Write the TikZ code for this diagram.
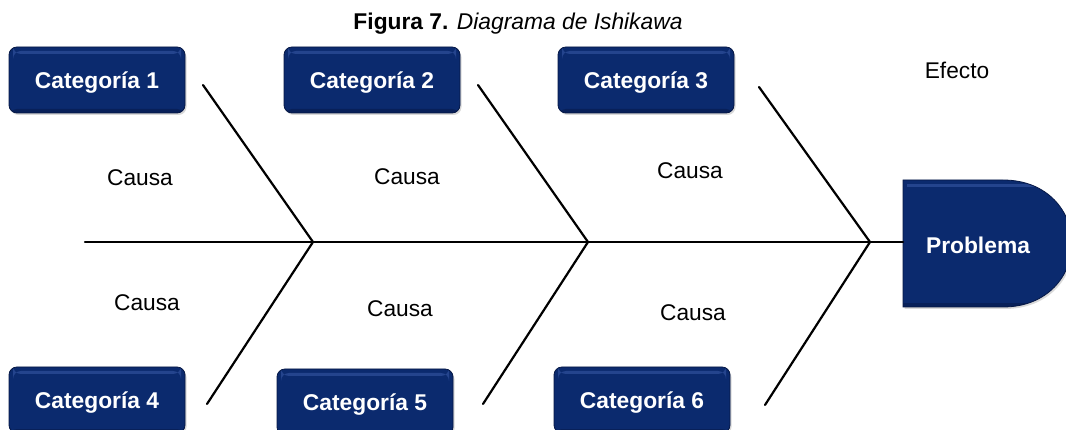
\documentclass[tikz,border=0pt]{standalone}
\usepackage{fontspec}
\setmainfont{Liberation Sans}
\usetikzlibrary{shadows}
\definecolor{navy}{HTML}{0B2A6E}
\definecolor{navylight}{HTML}{3A5AA8}
\definecolor{navyedge}{HTML}{061845}
\begin{document}
\begin{tikzpicture}[x=1pt,y=-1pt,
  gloss/.style={path picture={
      \fill[navylight, opacity=.55]
        ([xshift=4pt,yshift=-4pt]path picture bounding box.north west)
        rectangle ([xshift=-4pt,yshift=-7pt]path picture bounding box.north east);
      \fill[navyedge, opacity=.5]
        ([yshift=4pt]path picture bounding box.south west)
        rectangle (path picture bounding box.south east);}},
  catbox/.style={rounded corners=8pt, minimum width=176pt, minimum height=66pt,
    fill=navy, draw=navyedge, line width=0.8pt, gloss, text depth=0pt,
    text=white, font=\fontsize{22.8}{27}\selectfont\bfseries,
    drop shadow={shadow xshift=1.5pt, shadow yshift=-2pt, opacity=.3}},
  bone/.style={line width=2.2pt, line cap=round, line join=miter},
  cause/.style={font=\fontsize{22.7}{27}\selectfont},
]
\useasboundingbox (0,0) rectangle (1066,430);
\clip (0,0) rectangle (1066,430);

% title
\node (title) at (518,24) {\fontsize{22.8}{27}\selectfont\textbf{Figura 7.} \textit{Diagrama de Ishikawa}};

% category boxes
\node[catbox] (c1) at (97,80) {Categoría 1};
\node[catbox] (c2) at (372,80) {Categoría 2};
\node[catbox] (c3) at (646,80) {Categoría 3};
\node[catbox] (c4) at (97,400) {Categoría 4};
\node[catbox] (c5) at (365,402) {Categoría 5};
\node[catbox] (c6) at (642,400) {Categoría 6};

% effect head
\path[fill=navy, draw=navyedge, line width=0.8pt, gloss,
      drop shadow={shadow xshift=1.5pt, shadow yshift=-2pt, opacity=.3}]
  (903,180) -- (1003,180) .. controls (1048,180) and (1072,212) .. (1072,243.5)
  .. controls (1072,275) and (1048,307) .. (1003,307) -- (903,307) -- cycle;
\coordinate (headwest) at (903,242);
\node[text=white, font=\fontsize{22.8}{27}\selectfont\bfseries] (prob) at (978,245) {Problema};
\node[cause] (efecto) at (957,70) {Efecto};

% spine and junctions
\coordinate (tail) at (85,242);
\coordinate (j1) at (313,242);
\coordinate (j2) at (588,242);
\coordinate (j3) at (870,242);
\draw[bone] (tail) -- (headwest);

% bone ends
\coordinate (u1) at (203,85);
\coordinate (u2) at (478,85);
\coordinate (u3) at (759,87);
\coordinate (l1) at (207,404);
\coordinate (l2) at (483,404);
\coordinate (l3) at (765,405);
\draw[bone] (u1) -- (j1) -- (l1);
\draw[bone] (u2) -- (j2) -- (l2);
\draw[bone] (u3) -- (j3) -- (l3);

% causes
\node[cause] (ca1) at (140,178) {Causa};
\node[cause] (ca2) at (407,177) {Causa};
\node[cause] (ca3) at (690,171) {Causa};
\node[cause] (ca4) at (147,303) {Causa};
\node[cause] (ca5) at (400,309) {Causa};
\node[cause] (ca6) at (693,313) {Causa};
\end{tikzpicture}
\end{document}
